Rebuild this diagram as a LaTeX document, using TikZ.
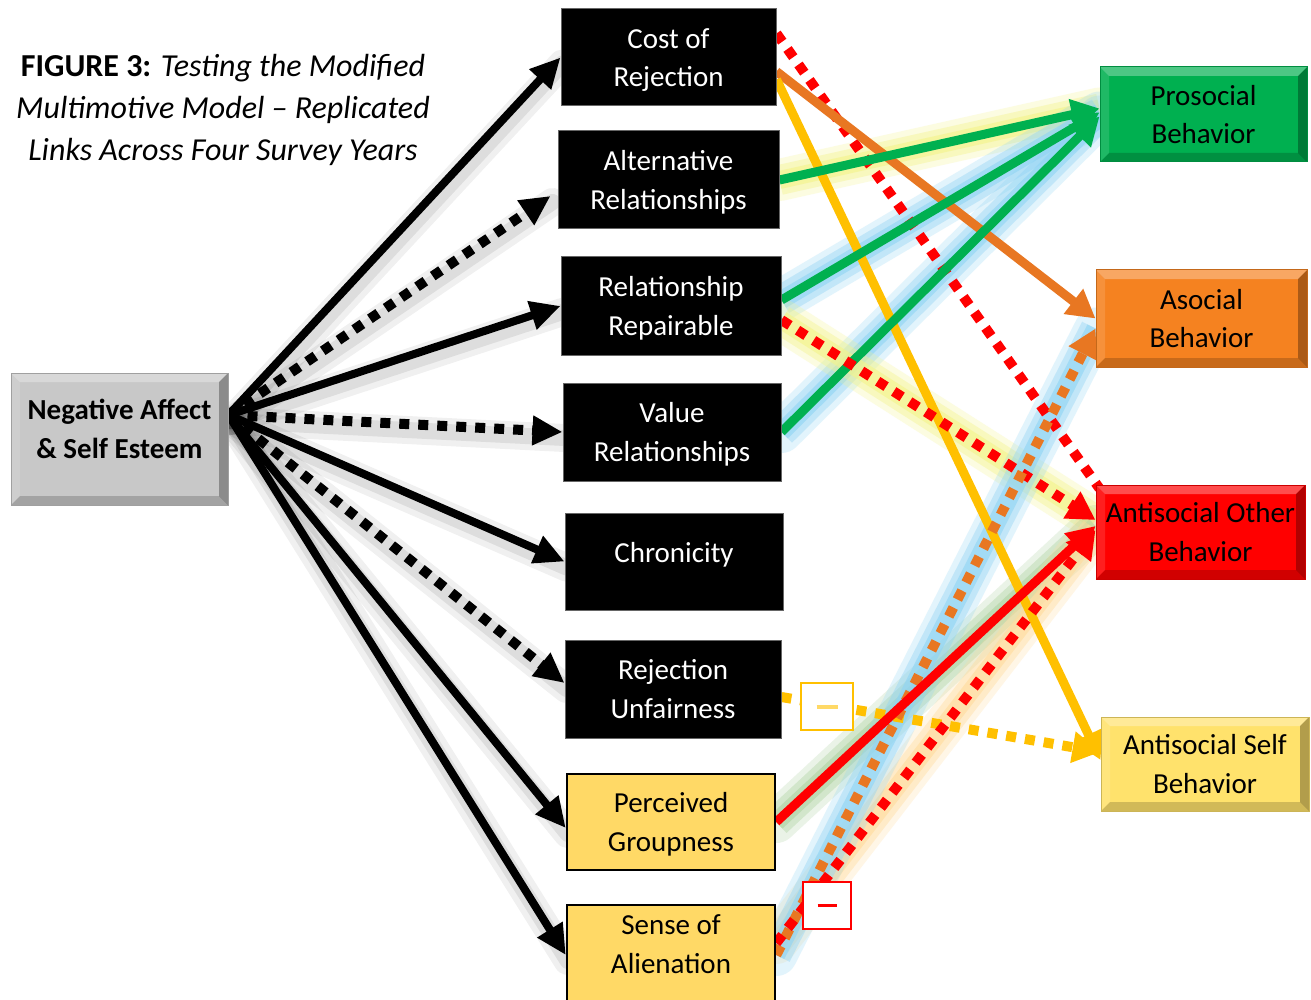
\documentclass[tikz,border=0pt]{standalone}
\usepackage{fontspec}
\setmainfont{Carlito}
\usetikzlibrary{arrows.meta,calc}
\pgfdeclarelayer{paperlayer}
\pgfdeclarelayer{glowlayer}
\pgfdeclarelayer{edgelayer}
\pgfsetlayers{paperlayer,glowlayer,edgelayer,main}
\definecolor{cgreen}{HTML}{00B050}
\definecolor{corange}{HTML}{F58220}
\definecolor{carrow}{HTML}{E87722}
\definecolor{cred}{HTML}{FF0000}
\definecolor{cgold}{HTML}{FFC000}
\definecolor{cyel}{HTML}{FFD966}
\definecolor{cyel2}{HTML}{FFE26C}
\definecolor{cgray}{HTML}{C8C8C8}
\definecolor{glowblue}{HTML}{8FD4F4}
\definecolor{glowyel}{HTML}{F4F48A}
\definecolor{glowgreen}{HTML}{AFD3A2}
\definecolor{gloworange}{HTML}{FFDC9C}
\begin{document}
\begin{tikzpicture}[x=1pt,y=-1pt,
  boxtxt/.style={font=\fontsize{29}{38.5}\selectfont, align=center, text depth=-3pt},
  blackbox/.style={rectangle, inner sep=0pt, fill=black, draw=black!60, line width=1pt, text=white, boxtxt},
  yellowbox/.style={rectangle, inner sep=0pt, fill=cyel, draw=black, line width=2.5pt, boxtxt},
  bevelbox/.style={rectangle, inner sep=0pt, fill=#1, draw=#1!80!black, line width=1pt, boxtxt,
    path picture={
      \fill[white,opacity=0.3] (path picture bounding box.north west) -- (path picture bounding box.north east)
        -- ([shift={(-9pt,-9pt)}]path picture bounding box.north east) -- ([shift={(9pt,-9pt)}]path picture bounding box.north west) -- cycle;
      \fill[white,opacity=0.12] (path picture bounding box.north west) -- ([shift={(9pt,-9pt)}]path picture bounding box.north west)
        -- ([shift={(9pt,9pt)}]path picture bounding box.south west) -- (path picture bounding box.south west) -- cycle;
      \fill[black,opacity=0.18] (path picture bounding box.south west) -- (path picture bounding box.south east)
        -- ([shift={(-9pt,9pt)}]path picture bounding box.south east) -- ([shift={(9pt,9pt)}]path picture bounding box.south west) -- cycle;
      \fill[black,opacity=0.3] (path picture bounding box.north east) -- (path picture bounding box.south east)
        -- ([shift={(-9pt,9pt)}]path picture bounding box.south east) -- ([shift={(-9pt,-9pt)}]path picture bounding box.north east) -- cycle;
    }},
  minusbox/.style={rectangle, fill=white, draw=#1, line width=2pt, inner sep=0pt},
  blkarrow/.style={draw=black, line width=8pt, -{Triangle[length=30pt,width=28pt]},
    preaction={draw=black, opacity=0.06, line width=28pt, arrows=-, solid, line cap=round, transform canvas={shift={(2pt,-6pt)}}},
    preaction={draw=black, opacity=0.08, line width=16pt, arrows=-, solid, line cap=round, transform canvas={shift={(2pt,-6pt)}}}},
  blkdots/.style={blkarrow, dash pattern=on 10pt off 9pt, line width=10pt},
  colarrow/.style={draw=#1, line width=9pt, -{Triangle[length=28pt,width=30pt]}},
  coldots/.style={draw=#1, dash pattern=on 10pt off 9pt, line width=10pt, -{Triangle[length=28pt,width=30pt]}},
  glow/.style={draw=#1, line width=42pt, opacity=0.25, line cap=round,
    preaction={draw=#1, line width=30pt, opacity=0.4}, preaction={draw=#1, line width=18pt, opacity=0.6}}
]
\useasboundingbox (0,0) rectangle (1311,1000);
\begin{pgfonlayer}{paperlayer}
\fill[white] (0,0) rectangle (1311,1000);
\end{pgfonlayer}

% title
\node[align=center, font=\fontsize{32}{42}\selectfont] (title) at (223,110)
  {\textbf{FIGURE 3:} \textit{Testing the Modified}\\\textit{Multimotive Model – Replicated}\\\textit{Links Across Four Survey Years}};

% left node
\node[bevelbox=cgray, minimum width=217pt, minimum height=132pt,
  label={[align=center, font=\fontsize{29}{39}\selectfont\bfseries, yshift=10pt]center:{Negative Affect\\\& Self Esteem}}] (nae) at (119.5,439) {};

% middle nodes
\node[blackbox, minimum width=215pt, minimum height=97pt] (cost) at (668.5,57.5) {Cost of\\Rejection};
\node[blackbox, minimum width=221pt, minimum height=98pt] (alt) at (668.5,180) {Alternative\\Relationships};
\node[blackbox, minimum width=220pt, minimum height=98pt] (rr) at (671,306) {Relationship\\Repairable};
\node[blackbox, minimum width=218pt, minimum height=98pt] (val) at (672,432) {Value\\Relationships};
\node[blackbox, minimum width=218pt, minimum height=97pt,
  label={[boxtxt, text depth=0pt, text=white, yshift=9pt]center:Chronicity}] (chr) at (674,561.5) {};
\node[blackbox, minimum width=216pt, minimum height=98pt] (ru) at (673,689) {Rejection\\Unfairness};
\node[yellowbox, minimum width=208pt, minimum height=96pt] (pg) at (671,822) {Perceived\\Groupness};
\node[yellowbox, minimum width=208pt, minimum height=110pt,
  label={[boxtxt, text depth=0pt, yshift=16pt]center:{Sense of\\Alienation}}] (al) at (671,960) {};

% right nodes
\node[bevelbox=cgreen, minimum width=207pt, minimum height=95pt] (pro) at (1203.5,114.5) {Prosocial\\Behavior};
\node[bevelbox=corange, minimum width=211pt, minimum height=97pt] (aso) at (1201.5,318.5) {Asocial\\Behavior};
\node[bevelbox=cred, minimum width=209pt, minimum height=94pt] (ao) at (1200.5,532) {Antisocial Other\\Behavior};
\node[bevelbox=cyel2, minimum width=208pt, minimum height=94pt] (as) at (1205,764) {Antisocial Self\\Behavior};

% minus markers
\node[minusbox=cgold, minimum width=52pt, minimum height=47pt] (m1) at (827,706.5) {\textcolor{cyel}{\rule[-2pt]{21pt}{4pt}}};
\node[minusbox=cred, minimum width=48pt, minimum height=47pt] (m2) at (827,905.5) {\textcolor{cred}{\rule[-1.5pt]{19pt}{3.5pt}}};

% glows
\begin{pgfonlayer}{glowlayer}
\draw[glow=glowyel] (alt.east) -- ([yshift=6pt]pro.west);
\draw[glow=glowblue] ([yshift=6pt]rr.east) -- ([yshift=2pt]pro.west);
\draw[glow=glowblue] (val.east) -- ([yshift=-2pt]pro.west);
\draw[glow=glowyel] ([yshift=-14pt]rr.east) -- ([yshift=12pt]ao.west);
\draw[glow=glowgreen] (pg.east) -- ([yshift=6pt]ao.west);
\draw[glow=gloworange] ([yshift=17pt]al.east) -- ([yshift=2pt]ao.west);
\draw[glow=glowblue] ([yshift=5pt]al.east) -- ([yshift=-10pt]aso.west);
\end{pgfonlayer}

% connectors
\begin{pgfonlayer}{edgelayer}
\coordinate (src) at ([yshift=24pt]nae.east);
\draw[blkarrow] (src) -- (cost.west);
\draw[blkdots] (src) -- ([shift={(-7pt,-16pt)}]alt.west);
\draw[blkarrow] (src) -- (rr.west);
\draw[blkdots] (src) -- (val.west);
\draw[blkarrow] (src) -- (chr.west);
\draw[blkdots] (src) -- ([yshift=6pt]ru.west);
\draw[blkarrow] (src) -- ([yshift=-6pt]pg.west);
\draw[blkarrow] (src) -- ([yshift=5pt]al.west);

\draw[coldots=cred, arrows=-] ([yshift=24pt]cost.east) -- ([shift={(4pt,-4pt)}]ao.north west);
\draw[colarrow=carrow] ([yshift=-14pt]cost.east) -- (aso.west);
\draw[colarrow=cgold] ([yshift=-22pt]cost.east) -- ([yshift=4pt]as.west);
\draw[colarrow=cgreen] (alt.east) -- ([yshift=6pt]pro.west);
\draw[colarrow=cgreen] ([yshift=6pt]rr.east) -- ([yshift=2pt]pro.west);
\draw[colarrow=cgreen] (val.east) -- ([yshift=-2pt]pro.west);
\draw[coldots=cred] ([yshift=-14pt]rr.east) -- ([yshift=12pt]ao.west);
\draw[coldots=cgold] ([yshift=-8pt]ru.east) -- ([yshift=12pt]as.west);
\draw[coldots=carrow] ([yshift=5pt]al.east) -- ([yshift=-10pt]aso.west);
\draw[colarrow=cred] (pg.east) -- ([yshift=6pt]ao.west);
\draw[coldots=cred] ([yshift=17pt]al.east) -- ([yshift=2pt]ao.west);
\end{pgfonlayer}
\end{tikzpicture}
\end{document}
